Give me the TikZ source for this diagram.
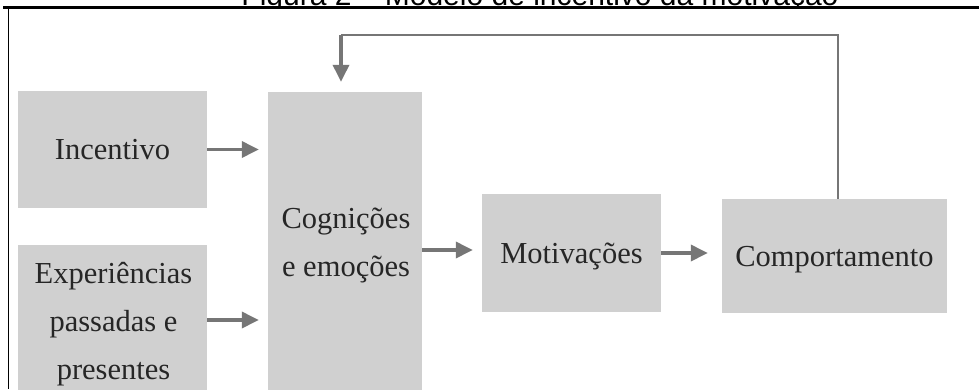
\documentclass[tikz,border=0pt]{standalone}
\usepackage{fontspec}
\setmainfont{Liberation Serif}
\newfontfamily\titlefont{Liberation Sans}
\usetikzlibrary{arrows.meta}
\definecolor{boxgray}{HTML}{D0D0D0}
\definecolor{arrgray}{HTML}{767676}
\definecolor{txtgray}{HTML}{262626}
\begin{document}
\begin{tikzpicture}[x=1pt,y=1pt,
  box/.style={fill=boxgray, draw=none, inner sep=0pt, text=txtgray,
    font=\fontsize{30.5}{48}\selectfont, text height=20pt, text depth=0pt},
  lbl/.style={inner sep=0pt, text=txtgray, align=center,
    font=\fontsize{30.5}{48}\selectfont},
  arr/.style={draw=arrgray, line width=3.5pt,
    -{Triangle[length=17pt,width=16pt]}},
  fbline/.style={draw=arrgray, line width=2.8pt},
  frame/.style={draw=black}]
\useasboundingbox (0,0) rectangle (979,-389);
\begin{scope}
  \clip (0,0) rectangle (979,-389);
  % title, cut off at the top edge as in the source
  \begin{scope}
    \clip (0,0) rectangle (979,-6.5);
    \node[anchor=base, inner sep=0pt, font=\titlefont\fontsize{30}{36}\selectfont] (title) at (540,-5) {Figura 2 – Modelo de incentivo da motivação};
  \end{scope}
  % frame
  \draw[frame, line width=2.5pt] (3,-7.5) -- (979,-7.5);
  \draw[frame, line width=1.5pt] (8.5,-7.5) -- (8.5,-389);
  % boxes
  \node[box, minimum width=189pt, minimum height=117pt] (inc) at (112.5,-149.5) {Incentivo};
  \node[box, minimum width=189pt, minimum height=150pt] (exp) at (112.5,-320) {};
  \node[lbl, anchor=north] (expt) at (113.5,-262) {Experiências\\passadas e\\presentes};
  \node[box, minimum width=154pt, minimum height=316pt] (cog) at (345,-250) {};
  \node[lbl] (cogt) at (346,-245) {Cognições\\e emoções};
  \node[box, minimum width=179pt, minimum height=118pt] (mot) at (571.5,-253) {Motivações};
  \node[box, minimum width=225pt, minimum height=114pt] (comp) at (834.5,-256) {Comportamento};
  % arrows
  \draw[arr, shorten >=9pt] (inc.east) -- (inc.east -| cog.west);
  \draw[arr, shorten >=9pt] (exp.east) -- (exp.east -| cog.west);
  \draw[arr, shorten >=9pt] (cog.east) -- (cog.east -| mot.west);
  \draw[arr, shorten >=14pt] (mot.east) -- (mot.east -| comp.west);
  % feedback
  \coordinate (fb) at (0,-35);
  \draw[fbline] ([xshift=3.5pt]comp.north) -- ([xshift=3.5pt]comp.north |- fb) -- ([xshift=-4pt]cog.north |- fb);
  \draw[arr, shorten >=10pt] ([xshift=-4pt]cog.north |- fb) -- ([xshift=-4pt]cog.north);
\end{scope}
\end{tikzpicture}
\end{document}
